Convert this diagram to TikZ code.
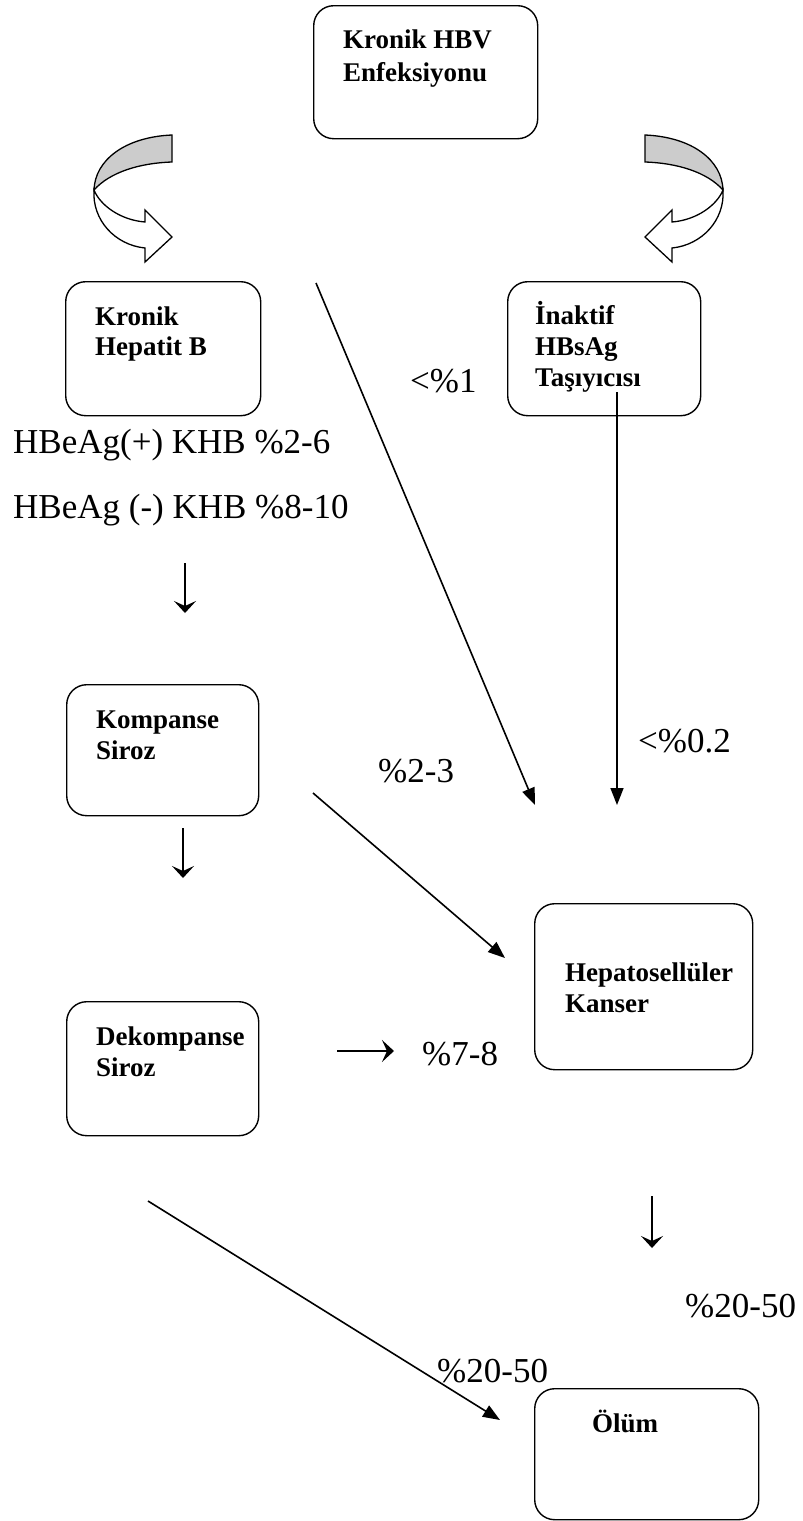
\documentclass[tikz,border=0pt]{standalone}
\usepackage{fontspec}
\setmainfont{Liberation Serif}
\usetikzlibrary{arrows.meta}

\tikzstyle{box}=[draw,rounded corners=20pt,line width=1.4pt,anchor=north west,inner sep=0pt]
\tikzstyle{boxtext}=[font=\bfseries\fontsize{27}{31}\selectfont,align=left,anchor=base west,inner sep=0pt]
\tikzstyle{rate}=[font=\fontsize{35}{40}\selectfont,anchor=base west,inner sep=0pt]
\tikzstyle{flow}=[line width=1.6pt,-{Triangle[length=17pt,width=13pt]}]
\tikzstyle{glyph}=[line width=2.4pt,-{Stealth[length=12pt,width=22pt,inset=5pt]}]

\tikzset{turnarrow/.pic={
	\draw[line width=1.3pt,fill=black!20] (0,0) .. controls (-47,2) and (-77,25) .. (-78,55) .. controls (-62,37) and (-32,28) .. (0,27) -- cycle;
	\draw[line width=1.3pt,fill=white] (-78,55) .. controls (-80,85) and (-57,110) .. (-27,113) -- (-27,127) -- (0,102) -- (-27,75) -- (-27,87) .. controls (-52,85) and (-72,70) .. (-78,55) -- cycle;
}}

\begin{document}
\begin{tikzpicture}[x=1pt,y=-1pt]
	\useasboundingbox (0,0) rectangle (803,1521);
	
	\node[box,minimum width=224pt,minimum height=133pt] (hbv) at (313,5) {};
	\node[box,minimum width=195pt,minimum height=134pt] (khb) at (65,281) {};
	\node[box,minimum width=193pt,minimum height=134pt] (inaktif) at (507,281) {};
	\node[box,minimum width=192pt,minimum height=131pt] (kompanse) at (66,684) {};
	\node[box,minimum width=192pt,minimum height=134pt] (dekompanse) at (66,1001) {};
	\node[box,minimum width=218pt,minimum height=166pt] (hcc) at (534,903) {};
	\node[box,minimum width=224pt,minimum height=131pt] (olum) at (534,1388) {};
	
	% base is the last line
	\node[boxtext,font=\bfseries\fontsize{27}{33}\selectfont] (hbvtext) at (343,81) {Kronik HBV\\Enfeksiyonu};
	\node[boxtext,font=\bfseries\fontsize{27}{30}\selectfont] (khbtext) at (95,355) {Kronik\\Hepatit B};
	\node[boxtext] (inaktiftext) at (535,386) {İnaktif\\HBsAg\\Taşıyıcısı};
	\node[boxtext] (kompansetext) at (96,759) {Kompanse\\Siroz};
	\node[boxtext] (dekompansetext) at (96,1076) {Dekompanse\\Siroz};
	\node[boxtext] (hcctext) at (565,1012) {Hepatosellüler\\Kanser};
	\node[boxtext] (olumtext) at (592,1432) {Ölüm};
	
	\pic at (172,135) {turnarrow};
	\pic[xscale=-1] at (645,135) {turnarrow};
	
	\node[rate] (eplus) at (13,453) {HBeAg(+) KHB \%2-6};
	\node[rate] (eminus) at (13,518) {HBeAg (-) KHB \%8-10};
	\node[rate] (r1) at (410,392) {<\%1};
	\node[rate] (r02) at (638,752) {<\%0.2};
	\node[rate] (r23) at (378,782) {\%2-3};
	\node[rate] (r78) at (422,1065) {\%7-8};
	\node[rate] (r2050a) at (685,1317) {\%20-50};
	\node[rate] (r2050b) at (437,1382) {\%20-50};
	
	\coordinate (a1) at (316,283);
	\coordinate (a2) at (535,805);
	\coordinate (b1) at (617,392);
	\coordinate (b2) at (617,805);
	\coordinate (c1) at (313,793);
	\coordinate (c2) at (505,958);
	\coordinate (e1) at (148,1201);
	\coordinate (e2) at (500,1420);
	\draw[flow] (a1)--(a2);
	\draw[flow] (b1)--(b2);
	\draw[flow] (c1)--(c2);
	\draw[flow] (e1)--(e2);
	
	\coordinate (d1) at (185,563);
	\coordinate (d2) at (185,613);
	\coordinate (d3) at (183,828);
	\coordinate (d4) at (183,878);
	\coordinate (d5) at (652,1196);
	\coordinate (d6) at (652,1248);
	\coordinate (h1) at (337,1051);
	\coordinate (h2) at (394,1051);
	\draw[glyph] (d1)--(d2);
	\draw[glyph] (d3)--(d4);
	\draw[glyph] (d5)--(d6);
	\draw[glyph] (h1)--(h2);
\end{tikzpicture}
\end{document}
